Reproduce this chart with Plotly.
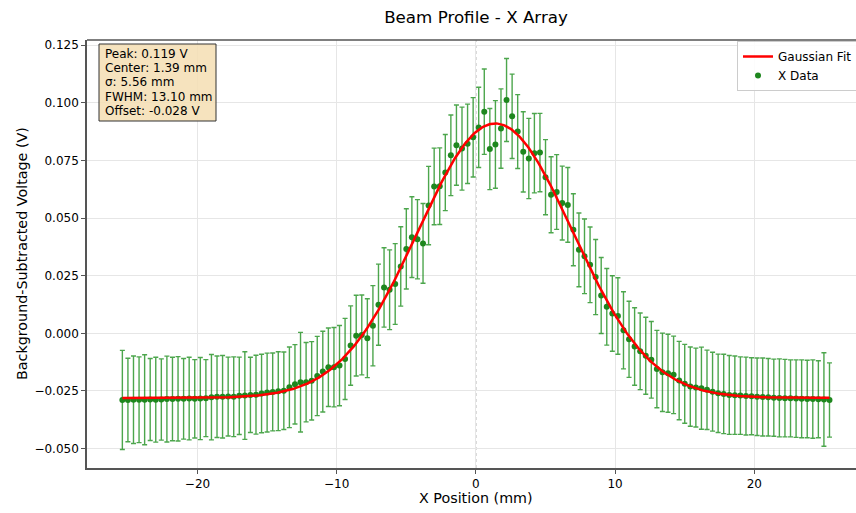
import numpy as np
import plotly.graph_objects as go

# ---------------- data ----------------
x_start_mm = -25.4
x_end_mm = 25.4
n_points = 128
x_positions = np.linspace(x_start_mm, x_end_mm, n_points)

voltage = [
    -0.0289, -0.0289, -0.0288, -0.0288, -0.0288, -0.0287, -0.0288, -0.0287, -0.0285, -0.0285,
    -0.0284, -0.0284, -0.0283, -0.0284, -0.0283, -0.0281, -0.0277, -0.0275, -0.0275, -0.0274,
    -0.0275, -0.0271, -0.0270, -0.0267, -0.0266, -0.0261, -0.0257, -0.0254, -0.0251, -0.0249,
    -0.0234, -0.0221, -0.0212, -0.0212, -0.0206, -0.0185, -0.0166, -0.0147, -0.0147, -0.0140,
    -0.0111, -0.0053, -0.0010, -0.0007, -0.0021, 0.0033, 0.0124, 0.0199, 0.0189, 0.0214,
    0.0290, 0.0366, 0.0417, 0.0408, 0.0390, 0.0554, 0.0637, 0.0638, 0.0697, 0.0772,
    0.0816, 0.0801, 0.0822, 0.0850, 0.0893, 0.0961, 0.0799, 0.0819, 0.0888, 0.1012,
    0.0941, 0.0875, 0.0787, 0.0758, 0.0781, 0.0784, 0.0677, 0.0601, 0.0613, 0.0565,
    0.0557, 0.0449, 0.0362, 0.0334, 0.0297, 0.0244, 0.0164, 0.0115, 0.0086, 0.0075,
    0.0013, -0.0026, -0.0057, -0.0078, -0.0097, -0.0115, -0.0155, -0.0169, -0.0173, -0.0180,
    -0.0205, -0.0219, -0.0231, -0.0235, -0.0238, -0.0245, -0.0253, -0.0260, -0.0263, -0.0267,
    -0.0268, -0.0270, -0.0272, -0.0273, -0.0275, -0.0276, -0.0277, -0.0279, -0.0280, -0.0281,
    -0.0282, -0.0283, -0.0284, -0.0285, -0.0285, -0.0286, -0.0287, -0.0289,
]

voltage_err = [
    0.0215, 0.0181, 0.0190, 0.0186, 0.0195, 0.0178, 0.0184, 0.0176, 0.0186, 0.0181,
    0.0183, 0.0175, 0.0179, 0.0170, 0.0178, 0.0167, 0.0185, 0.0177, 0.0179, 0.0171,
    0.0173, 0.0168, 0.0190, 0.0163, 0.0171, 0.0170, 0.0171, 0.0169, 0.0171, 0.0168,
    0.0175, 0.0172, 0.0216, 0.0172, 0.0170, 0.0172, 0.0175, 0.0170, 0.0172, 0.0174,
    0.0176, 0.0172, 0.0175, 0.0173, 0.0171, 0.0174, 0.0176, 0.0172, 0.0173, 0.0175,
    0.0172, 0.0174, 0.0175, 0.0172, 0.0173, 0.0170, 0.0166, 0.0166, 0.0165, 0.0175,
    0.0174, 0.0180, 0.0172, 0.0172, 0.0174, 0.0185, 0.0176, 0.0190, 0.0172, 0.0180,
    0.0183, 0.0160, 0.0174, 0.0174, 0.0172, 0.0170, 0.0163, 0.0165, 0.0162, 0.0160,
    0.0162, 0.0156, 0.0160, 0.0162, 0.0164, 0.0163, 0.0165, 0.0166, 0.0164, 0.0166,
    0.0167, 0.0165, 0.0168, 0.0166, 0.0167, 0.0166, 0.0168, 0.0170, 0.0169, 0.0168,
    0.0170, 0.0171, 0.0172, 0.0171, 0.0178, 0.0172, 0.0171, 0.0170, 0.0172, 0.0171,
    0.0170, 0.0168, 0.0169, 0.0167, 0.0168, 0.0169, 0.0168, 0.0167, 0.0169, 0.0168,
    0.0167, 0.0168, 0.0169, 0.0168, 0.0170, 0.0167, 0.0203, 0.0161,
]

# Gaussian fit parameters (as printed in the box)
fit_peak = 0.119
fit_center = 1.39
fit_sigma = 5.56
fit_fwhm = 13.10
fit_offset = -0.028

x_ticks = [-20, -10, 0, 10, 20]
x_tick_text = ["\u221220", "\u221210", "0", "10", "20"]
y_ticks = [-0.050, -0.025, 0.000, 0.025, 0.050, 0.075, 0.100, 0.125]
y_tick_text = ["\u22120.050", "\u22120.025", "0.000", "0.025", "0.050", "0.075", "0.100", "0.125"]

fit_x = np.linspace(x_start_mm, x_end_mm, 600)
fit_y = fit_offset + fit_peak * np.exp(-((fit_x - fit_center) ** 2) / (2 * fit_sigma ** 2))

info_lines = [
    f"Peak: {fit_peak:.3f} V",
    f"Center: {fit_center:.2f} mm",
    f"\u03c3: {fit_sigma:.2f} mm",
    f"FWHM: {fit_fwhm:.2f} mm",
    f"Offset: {fit_offset:.3f} V",
]

# ---------------- figure ----------------
W, H = 856, 513
L = 87          # plot left edge
T = 40          # plot top
B = H - 468     # plot bottom at y = 468
R = 0
plot_w = W - L - R
plot_h = H - T - B

FONT = "DejaVu Sans"

fig = go.Figure()

fig.add_trace(go.Scatter(
    x=x_positions, y=voltage, mode="markers", name="X Data",
    marker=dict(color="rgb(30,135,30)", size=6),
    error_y=dict(type="data", array=voltage_err, visible=True,
                 color="rgba(0,128,0,0.7)", thickness=1.4, width=2.5),
))
fig.add_trace(go.Scatter(
    x=fit_x, y=fit_y, mode="lines", name="Gaussian Fit",
    line=dict(color="red", width=2.5),
))


def sx(px):
    """pixel x -> paper x"""
    return (px - L) / plot_w


def sy(py):
    """pixel y -> paper y"""
    return (H - B - py) / plot_h


shapes = [
    dict(type="line", xref="x", yref="paper", x0=0, x1=0, y0=0, y1=1,
         line=dict(color="rgba(128,128,128,0.7)", width=1, dash="dot"), layer="between"),
    dict(type="line", xref="paper", yref="paper", x0=0, x1=1, y0=1, y1=1,
         line=dict(color="#555555", width=1.5), layer="above"),
    dict(type="rect", xref="paper", yref="paper",
         x0=sx(99), x1=sx(216), y0=sy(121), y1=sy(44),
         fillcolor="rgba(245,222,179,0.85)", line=dict(color="#333333", width=1), layer="above"),
]

annotations = []
line_y = [53.5, 68.0, 82.4, 96.8, 111.2]
for txt, yy in zip(info_lines, line_y):
    annotations.append(dict(
        text=txt, xref="paper", yref="paper", x=sx(103), y=sy(yy),
        xanchor="left", yanchor="middle", showarrow=False,
        font=dict(family=FONT, size=12, color="black"),
    ))

annotations.append(dict(
    text="X Position (mm)", xref="paper", yref="paper",
    x=sx(476), y=sy(498), xanchor="center", yanchor="middle",
    showarrow=False, font=dict(family=FONT, size=14.3, color="black"),
))
annotations.append(dict(
    text="Background-Subtracted Voltage (V)", xref="paper", yref="paper",
    x=sx(22), y=sy(254), xanchor="center", yanchor="middle",
    textangle=-90, showarrow=False, font=dict(family=FONT, size=14.3, color="black"),
))

x_range = [-27.94, -27.94 + plot_w / 13.92]
y_range = [-0.0584, 0.1272]

fig.update_layout(
    width=W, height=H,
    margin=dict(l=L, r=R, t=T, b=B, pad=0, autoexpand=False),
    paper_bgcolor="white", plot_bgcolor="white",
    font=dict(family=FONT, size=12, color="black"),
    title=dict(text="Beam Profile - X Array", x=476 / W, xanchor="center",
               y=1 - 17 / H, yanchor="middle",
               font=dict(family=FONT, size=16.7, color="black")),
    xaxis=dict(range=x_range, tickvals=x_ticks, ticktext=x_tick_text,
               showgrid=True, gridcolor="#e6e6e6", gridwidth=1, zeroline=False,
               showline=True, linecolor="#555555", linewidth=1.5,
               ticks="outside", ticklen=4, tickcolor="#555555", tickwidth=1,
               tickfont=dict(family=FONT, size=12, color="black")),
    yaxis=dict(range=y_range, tickvals=y_ticks, ticktext=y_tick_text,
               showgrid=True, gridcolor="#e6e6e6", gridwidth=1, zeroline=False,
               showline=True, linecolor="#555555", linewidth=1.5,
               ticks="outside", ticklen=4, tickcolor="#555555", tickwidth=1,
               tickfont=dict(family=FONT, size=12, color="black")),
    legend=dict(x=sx(737), y=sy(41), xanchor="left", yanchor="top",
                bgcolor="rgba(255,255,255,0.85)", bordercolor="#cccccc", borderwidth=1,
                traceorder="reversed", font=dict(family=FONT, size=12, color="black")),
    showlegend=True,
    shapes=shapes,
    annotations=annotations,
)

# remove the default page margin so the figure sits at the window's top-left
fig.write_html("out.html",
               config={"displayModeBar": False},
               post_script="document.body.style.margin='0';document.body.style.overflow='hidden';")
